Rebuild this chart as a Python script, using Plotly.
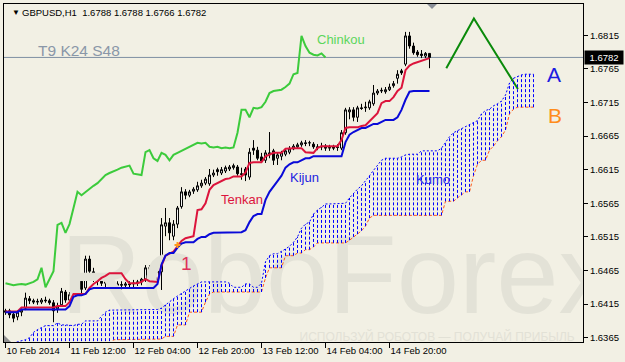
import plotly.graph_objects as go

# ---------------- data (GBPUSD H1, bar index 0 = first visible bar) ----------------
candle_open = [1.6405,1.6405,1.6400,1.6396,1.6403,1.6409,1.6423,1.6420,1.6418,1.6418,
 1.6421,1.6420,1.6417,1.6408,1.6414,1.6433,1.6421,1.6432,1.6464,1.6449,
 1.6439,1.6482,1.6463,1.6452,1.6449,1.6446,1.6448,1.6446,1.6445,1.6443,
 1.6443,1.6445,1.6445,1.6446,1.6448,1.6452,1.6469,1.6440,1.6451,1.6463,
 1.6531,1.6536,1.6516,1.6534,1.6560,1.6582,1.6577,1.6583,1.6585,1.6591,
 1.6595,1.6594,1.6607,1.6615,1.6610,1.6613,1.6616,1.6618,1.6619,1.6609,
 1.6616,1.6604,1.6647,1.6644,1.6634,1.6629,1.6640,1.6643,1.6632,1.6635,
 1.6638,1.6641,1.6646,1.6649,1.6652,1.6655,1.6655,1.6653,1.6649,1.6650,
 1.6650,1.6647,1.6649,1.6649,1.6647,1.6670,1.6701,1.6704,1.6693,1.6707,
 1.6707,1.6707,1.6713,1.6729,1.6732,1.6731,1.6734,1.6740,1.6751,1.6762,
 1.6772,1.6814,1.6799,1.6790,1.6787,1.6784,1.6788]
candle_high = [1.6408,1.6408,1.6403,1.6406,1.6408,1.6432,1.6427,1.6423,1.6423,1.6424,
 1.6426,1.6423,1.6421,1.6417,1.6439,1.6436,1.6433,1.6470,1.6469,1.6457,
 1.6487,1.6487,1.6469,1.6458,1.6455,1.6452,1.6452,1.6451,1.6449,1.6449,
 1.6448,1.6449,1.6451,1.6451,1.6454,1.6473,1.6473,1.6457,1.6469,1.6543,
 1.6558,1.6543,1.6540,1.6561,1.6589,1.6586,1.6585,1.6589,1.6597,1.6600,
 1.6604,1.6616,1.6615,1.6618,1.6619,1.6621,1.6622,1.6624,1.6622,1.6618,
 1.6619,1.6647,1.6659,1.6649,1.6640,1.6644,1.6671,1.6646,1.6640,1.6643,
 1.6647,1.6650,1.6653,1.6655,1.6658,1.6659,1.6658,1.6656,1.6653,1.6655,
 1.6653,1.6652,1.6652,1.6653,1.6674,1.6707,1.6708,1.6708,1.6710,1.6713,
 1.6716,1.6719,1.6741,1.6735,1.6737,1.6738,1.6743,1.6747,1.6763,1.6765,
 1.6820,1.6820,1.6804,1.6793,1.6793,1.6790,1.6788]
candle_low = [1.6399,1.6394,1.6388,1.6391,1.6397,1.6406,1.6415,1.6415,1.6414,1.6415,
 1.6417,1.6414,1.6388,1.6402,1.6411,1.6417,1.6418,1.6429,1.6443,1.6427,
 1.6436,1.6455,1.6448,1.6443,1.6442,1.6440,1.6440,1.6440,1.6439,1.6437,
 1.6439,1.6439,1.6440,1.6442,1.6443,1.6448,1.6424,1.6436,1.6445,1.6436,
 1.6516,1.6510,1.6510,1.6528,1.6557,1.6571,1.6574,1.6579,1.6582,1.6588,
 1.6592,1.6591,1.6604,1.6606,1.6607,1.6610,1.6613,1.6615,1.6606,1.6600,
 1.6598,1.6600,1.6637,1.6629,1.6625,1.6625,1.6632,1.6622,1.6622,1.6629,
 1.6635,1.6638,1.6644,1.6646,1.6649,1.6650,1.6650,1.6646,1.6644,1.6644,
 1.6643,1.6643,1.6644,1.6643,1.6644,1.6667,1.6690,1.6687,1.6686,1.6704,
 1.6701,1.6704,1.6710,1.6726,1.6729,1.6728,1.6732,1.6737,1.6743,1.6756,
 1.6769,1.6795,1.6786,1.6783,1.6781,1.6781,1.6766]
candle_close = [1.6403,1.6399,1.6394,1.6403,1.6406,1.6424,1.6420,1.6418,1.6419,1.6421,
 1.6420,1.6417,1.6405,1.6412,1.6434,1.6421,1.6429,1.6466,1.6448,1.6437,
 1.6482,1.6464,1.6452,1.6449,1.6446,1.6448,1.6446,1.6445,1.6443,1.6444,
 1.6445,1.6444,1.6446,1.6448,1.6452,1.6469,1.6440,1.6451,1.6464,1.6533,
 1.6536,1.6521,1.6534,1.6558,1.6582,1.6577,1.6582,1.6586,1.6591,1.6595,
 1.6601,1.6607,1.6610,1.6612,1.6615,1.6618,1.6619,1.6621,1.6609,1.6608,
 1.6607,1.6641,1.6644,1.6632,1.6628,1.6640,1.6637,1.6629,1.6637,1.6640,
 1.6643,1.6646,1.6650,1.6652,1.6655,1.6654,1.6655,1.6649,1.6648,1.6649,
 1.6647,1.6648,1.6647,1.6648,1.6670,1.6704,1.6704,1.6693,1.6707,1.6706,
 1.6708,1.6716,1.6729,1.6732,1.6733,1.6734,1.6738,1.6743,1.6757,1.6759,
 1.6814,1.6799,1.6789,1.6786,1.6785,1.6788,1.6782]

tenkan = ([1.6404]*4 + [1.6410]*9 + [1.6412]*3 + [1.6418] + [1.6430]*4 +
          [1.6439,1.6445,1.6449,1.6454,1.6457] + [1.6461]*4 + [1.6452] + [1.6446]*3 +
          [1.6448,1.6452,1.6449,1.6449,1.6448,1.6472,1.6487,1.6490,1.6493,1.6501,
           1.6509,1.6513,1.6515,1.6516,1.6555,1.6556,1.6565,1.6585,1.6592,1.6595,
           1.6598,1.6601,1.6602] + [1.6605]*3 + [1.6611,1.6625] + [1.6626]*3 +
          [1.6635,1.6638] + [1.6640]*3 + [1.6646] + [1.6647]*4 + [1.6641] + [1.6640]*2 +
          [1.6647] + [1.6650]*5 + [1.6659,1.6677] + [1.6678]*3 +
          [1.6680,1.6681,1.6687,1.6693,1.6699,1.6714] + [1.6717]*2 +
          [1.6723,1.6732,1.6737,1.6763,1.6770,1.6773,1.6775,1.6776,1.6778,1.6781])
kijun = ([1.6403]*4 + [1.6407]*12 + [1.6412,1.6426] + [1.6428]*2 + [1.6430,1.6437] +
         [1.6439]*16 + [1.6445,1.6474,1.6487] + [1.6491]*2 + [1.6499,1.6505] +
         [1.6507]*3 + [1.6512] + [1.6515]*2 + [1.6519] + [1.6521]*4 + [1.6522]*4 +
         [1.6525,1.6537,1.6546] + [1.6549]*2 +
         [1.6570,1.6582,1.6591,1.6598,1.6606,1.6618,1.6623] + [1.6626]*2 + [1.6629] +
         [1.6632]*2 + [1.6635]*8 + [1.6656,1.6667,1.6671,1.6674] + [1.6677]*2 +
         [1.6680] + [1.6683]*2 + [1.6686] + [1.6689]*3 + [1.6693,1.6704,1.6719,1.6731] +
         [1.6732]*5)

# Senkou spans, already shifted forward (index 0..132)
senkou_a = ([1.6352,1.6355,1.6357,1.6359,1.6360,1.6362,1.6365,1.6373,1.6377,1.6380,
             1.6383,1.6383,1.6383,1.6387,1.6384,1.6384,1.6384,1.6383,1.6385,1.6385,
             1.6390,1.6390,1.6390,1.6390,1.6397,1.6403] + [1.6406]*6 + [1.6407]*7 +
            [1.6409,1.6414,1.6418,1.6423,1.6427,1.6431,1.6435,1.6439,1.6442,1.6445] +
            [1.6448]*7 + [1.6446,1.6440,1.6440,1.6440,1.6445,1.6445,1.6440,1.6440,1.6446] +
            [1.6478,1.6487,1.6490,1.6490,1.6493,1.6497,1.6501,1.6507,1.6515,1.6528,
             1.6534,1.6537,1.6549,1.6555,1.6559] + [1.6564]*5 +
            [1.6565,1.6573,1.6580,1.6586,1.6591,1.6598,1.6606,1.6614,1.6622,1.6629] +
            [1.6632]*4 + [1.6634,1.6637] + [1.6638]*3 + [1.6643]*5 +
            [1.6647,1.6656,1.6664,1.6670,1.6673,1.6676,1.6679,1.6682,1.6685,1.6688,
             1.6698,1.6703,1.6705,1.6710,1.6713,1.6717,1.6726,1.6744,1.6751,1.6754,
             1.6756,1.6757,1.6757,1.6757])
senkou_b = ([1.6345]*27 + [1.6362]*7 + [1.6363]*6 + [1.6367]*3 + [1.6384]*3 +
            [1.6403]*4 + [1.6418,1.6430] + [1.6433]*13 + [1.6454] + [1.6469]*4 +
            [1.6487]*3 + [1.6491]*2 + [1.6496]*2 + [1.6500] + [1.6506]*8 +
            [1.6510,1.6515,1.6519,1.6524,1.6531,1.6543] + [1.6547]*18 + [1.6568]*3 +
            [1.6573,1.6577] + [1.6582]*2 + [1.6606,1.6623] + [1.6629]*2 +
            [1.6644,1.6650,1.6658,1.6664,1.6674,1.6698,1.6705] + [1.6708]*5)

chinkou_shift = 26
signal_bar, signal_price = 43, 1.6503
drawn_line_x = [110.2, 117.1, 128.1]
drawn_line_y = [1.6766, 1.6840, 1.6735]

last_price = 1.6782
price_ticks = [1.6365, 1.6415, 1.6465, 1.6515, 1.6565, 1.6615, 1.6665, 1.6715, 1.6765, 1.6815]
time_tick_bars = [0, 16, 32, 48, 64, 80, 96]
time_tick_labels = ['10 Feb 2014', '11 Feb 12:00', '12 Feb 04:00', '12 Feb 20:00',
                    '13 Feb 12:00', '14 Feb 04:00', '14 Feb 20:00']

# ---------------- figure ----------------
BG = '#F2F0E4'
FONT = 'Liberation Sans'
BLUE = '#0000FF'

bars = list(range(len(candle_close)))
kumo_x = list(range(len(senkou_a)))

fig = go.Figure()

# watermark
fig.add_trace(go.Scatter(x=[13.75], y=[1.64440], mode='text', text=['RoboForex'],
                         textposition='middle right', hoverinfo='skip', showlegend=False,
                         textfont=dict(family=FONT, size=112, color='#E3E2D7')))
fig.add_trace(go.Scatter(x=[73.5], y=[1.63645], mode='text',
                         text=['ИСПОЛЬЗУЙ РОБОТОВ — ПОЛУЧАЙ ПРИБЫЛЬ'],
                         textposition='middle right', hoverinfo='skip', showlegend=False,
                         textfont=dict(family=FONT, size=12, color='#E2E1D6')))

# kumo hatch (one dotted vertical stroke per bar between the two spans)
for j in kumo_x:
    fig.add_shape(type='line', xref='x', yref='y', x0=j, x1=j,
                  y0=senkou_b[j], y1=senkou_a[j], layer='above',
                  line=dict(color=BLUE, width=1, dash='3px,2px'))
fig.add_trace(go.Scatter(x=kumo_x, y=senkou_a, mode='lines', showlegend=False,
                         line=dict(color=BLUE, width=1, dash='2px,2px')))
fig.add_trace(go.Scatter(x=kumo_x, y=senkou_b, mode='lines', showlegend=False,
                         line=dict(color='#FF5A1A', width=1, dash='3px,2px')))

# candles
fig.add_trace(go.Candlestick(x=bars, open=candle_open, high=candle_high, low=candle_low,
                             close=candle_close, whiskerwidth=0, showlegend=False,
                             increasing=dict(line=dict(color='black', width=1), fillcolor='white'),
                             decreasing=dict(line=dict(color='black', width=1), fillcolor='black')))

# lines
fig.add_trace(go.Scatter(x=bars, y=tenkan, mode='lines', showlegend=False,
                         line=dict(color='#DC143C', width=2)))
fig.add_trace(go.Scatter(x=bars, y=kijun, mode='lines', showlegend=False,
                         line=dict(color='#0A0AD8', width=2)))
fig.add_trace(go.Scatter(x=[b - chinkou_shift for b in bars[chinkou_shift:]],
                         y=candle_close[chinkou_shift:], mode='lines', showlegend=False,
                         line=dict(color='#3CCB3C', width=2)))
fig.add_trace(go.Scatter(x=[signal_bar], y=[signal_price], mode='markers', showlegend=False,
                         marker=dict(symbol='cross', size=5, color='#FF9A1A')))
fig.add_trace(go.Scatter(x=drawn_line_x, y=drawn_line_y, mode='lines', showlegend=False,
                         line=dict(color='#0A8A0A', width=2)))

fig.add_shape(type='line', xref='paper', x0=0, x1=1, yref='y', y0=last_price, y1=last_price,
              line=dict(color='#7F8FA3', width=1), layer='below')
# scroll markers
fig.add_shape(type='path', xref='paper', yref='paper',
              path='M 0 0 L 0.0121 0 L 0 0.0207 Z', fillcolor='#909090', line=dict(width=0))
fig.add_shape(type='path', xref='paper', yref='paper',
              path='M 0.7306 1 L 0.7478 1 L 0.7392 0.9852 Z', fillcolor='#8A8F98', line=dict(width=0))

def ann(text, x, y, color, size, xanchor='left', xref='x', yref='y'):
    fig.add_annotation(text=text, x=x, y=y, xref=xref, yref=yref, showarrow=False,
                       xanchor=xanchor, yanchor='middle',
                       font=dict(family=FONT, size=size, color=color))

ann('Chinkou', 77.25, 1.6808, '#5CD65C', 13)
ann('Tenkan', 53.25, 1.6570, '#DC143C', 13)
ann('Kijun', 70.5, 1.6604, '#1C1CE0', 13)
ann('Kumo', 102, 1.6600, '#2A2AE8', 13)
ann('1', 45.25, 1.6475, '#E0305A', 19, xanchor='center')
ann('A', 137, 1.6757, '#1C1CE0', 21, xanchor='center')
ann('B', 137.25, 1.6696, '#FF8C1A', 21, xanchor='center')
ann('T9 K24 S48', 7.5, 1.6792, '#8A97A8', 15.5)
ann('GBPUSD,H1  1.6788 1.6788 1.6766 1.6782', 0.0276, 0.976, 'black', 9.5,
    xref='paper', yref='paper')
ann('▼', 0.0095, 0.976, 'black', 8, xref='paper', yref='paper')

fig.add_annotation(text='1.6782', xref='paper', x=1, xanchor='left', xshift=1,
                   yref='y', y=last_price, yanchor='middle', showarrow=False,
                   bgcolor='black', width=36, height=11, borderpad=1,
                   font=dict(family=FONT, size=9.5, color='white'))

fig.update_layout(
    width=625, height=362,
    margin=dict(l=4, r=42, t=4, b=20, autoexpand=False),
    paper_bgcolor=BG, plot_bgcolor=BG, showlegend=False,
    xaxis=dict(range=[-0.375, 144.375], showgrid=False, zeroline=False, rangeslider=dict(visible=False),
               showline=True, mirror=True, linecolor='black', linewidth=1,
               ticks='outside', ticklen=5, tickcolor='black', tickangle=0,
               tickvals=time_tick_bars, ticktext=time_tick_labels,
               ticklabelposition='outside right',
               tickfont=dict(family=FONT, size=9.5, color='black')),
    yaxis=dict(range=[1.63586, 1.68615], side='right', showgrid=False, zeroline=False,
               showline=True, mirror=True, linecolor='black', linewidth=1,
               ticks='outside', ticklen=4, tickcolor='black',
               tickvals=price_ticks, ticktext=[f'{v:.4f}' for v in price_ticks],
               tickfont=dict(family=FONT, size=9.5, color='black')),
)

fig.write_html('out.html', config={'displayModeBar': False},
               post_script="document.body.style.margin='0';document.body.style.padding='0';"
                           "document.body.style.background='" + BG + "';")
